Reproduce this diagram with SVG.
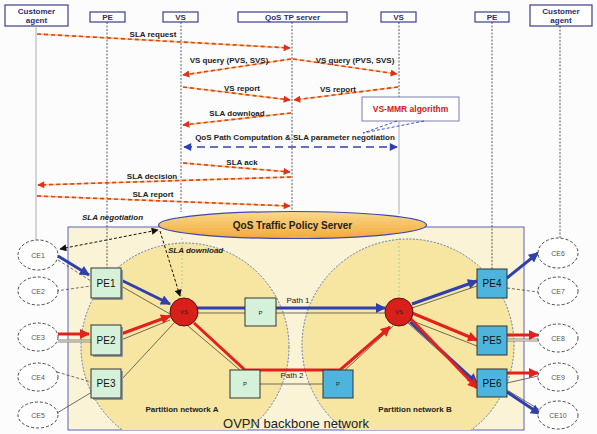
<svg xmlns="http://www.w3.org/2000/svg" width="597" height="434" viewBox="0 0 597 434">
<defs>
<style>
text{font-family:"Liberation Sans",Arial,sans-serif;}
.hdr{fill:#fff;stroke:#3a3f8a;stroke-width:1.2;}
.hdrt{font-size:8px;font-weight:bold;fill:#2a2f6a;text-anchor:middle;}
.life{stroke:#333;stroke-width:0.8;stroke-dasharray:2 1.5;fill:none;}
.lifeg{stroke:#999;stroke-width:0.8;fill:none;}
.msgb{stroke:#f6c27a;stroke-width:1.6;fill:none;}
.msg{stroke:#e0401a;stroke-width:1.6;stroke-dasharray:4 3;fill:none;}
.mt{font-size:8px;font-weight:bold;fill:#222;text-anchor:middle;}
.it{font-size:8px;font-weight:bold;font-style:italic;fill:#222;}
.ce{fill:#fff;stroke:#333;stroke-width:0.9;stroke-dasharray:3 2;}
.cet{font-size:7px;fill:#555;text-anchor:middle;}
.peg{fill:#d6f1da;stroke:#333;stroke-width:1;}
.peb{fill:#4db5dd;stroke:#333;stroke-width:1;}
.sh{fill:#999;}
.pet{font-size:10px;fill:#111;text-anchor:middle;}
.vs{fill:#d91f1a;stroke:#5a1010;stroke-width:1;}
.vst{font-size:6px;fill:#222;text-anchor:middle;}
.thin{stroke:#333;stroke-width:0.7;fill:none;}
.thind{stroke:#333;stroke-width:0.7;stroke-dasharray:3 2;fill:none;}
.dbl{stroke:#888;stroke-width:3;fill:none;}
.dbli{stroke:#f5eed5;stroke-width:1.2;fill:none;}
.blue{stroke:#2f3fae;stroke-width:3;fill:none;}
.red{stroke:#e3211c;stroke-width:3;fill:none;}
.blk{stroke:#111;stroke-width:1;stroke-dasharray:3 2;fill:none;}
</style>
<marker id="ar" viewBox="0 0 10 10" refX="9" refY="5" markerWidth="10" markerHeight="7" markerUnits="userSpaceOnUse" orient="auto-start-reverse"><path d="M0,0 L10,5 L0,10 z" fill="#e0301a"/></marker>
<marker id="ab" viewBox="0 0 10 10" refX="9" refY="5" markerWidth="11" markerHeight="8" markerUnits="userSpaceOnUse" orient="auto-start-reverse"><path d="M0,0 L10,5 L0,10 z" fill="#2f3fae"/></marker>
<marker id="abk" viewBox="0 0 10 10" refX="9" refY="5" markerWidth="9" markerHeight="7" markerUnits="userSpaceOnUse" orient="auto-start-reverse"><path d="M0,0 L10,5 L0,10 z" fill="#111"/></marker>
<marker id="rt" viewBox="0 0 10 10" refX="9" refY="5" markerWidth="13" markerHeight="10" markerUnits="userSpaceOnUse" orient="auto"><path d="M0,0 L10,5 L0,10 z" fill="#e3211c"/></marker>
<marker id="bt" viewBox="0 0 10 10" refX="9" refY="5" markerWidth="13" markerHeight="10" markerUnits="userSpaceOnUse" orient="auto"><path d="M0,0 L10,5 L0,10 z" fill="#2f3fae"/></marker>
<clipPath id="bb"><rect x="68" y="227" width="456" height="203"/></clipPath>
<linearGradient id="og" x1="0" y1="0" x2="0" y2="1"><stop offset="0" stop-color="#fbd98a"/><stop offset="1" stop-color="#f2a93a"/></linearGradient>
</defs>
<rect width="597" height="434" fill="#fcfcfd"/>

<!-- backbone network -->
<g id="backbone">
<rect x="68" y="227" width="456" height="203" fill="#faf3d6" stroke="#5a62b8" stroke-width="1"/>
<g clip-path="url(#bb)">
<circle cx="185" cy="347" r="104" fill="#f6e6a2" stroke="#4f6cc0" stroke-width="0.9" stroke-dasharray="2 1.5"/>
<circle cx="408" cy="345" r="106" fill="#f6e6a2" stroke="#4f6cc0" stroke-width="0.9" stroke-dasharray="2 1.5"/>
</g>
<text x="296" y="428" font-size="13" fill="#222" text-anchor="middle">OVPN backbone network</text>
<text x="182" y="412" font-size="8" font-weight="bold" fill="#222" text-anchor="middle">Partition network A</text>
<text x="415" y="412" font-size="8" font-weight="bold" fill="#222" text-anchor="middle">Partition network B</text>
</g>

<!-- header boxes -->
<g id="h-ca1"><rect class="hdr" x="5" y="5" width="63" height="21" stroke-width="1.8"/><text class="hdrt" x="36.5" y="14">Customer</text><text class="hdrt" x="36.5" y="23">agent</text></g>
<g id="h-pe1"><rect class="hdr" x="90" y="12" width="35" height="10"/><text class="hdrt" x="107.5" y="20" font-size="7">PE</text></g>
<g id="h-vs1"><rect class="hdr" x="163" y="12" width="35" height="10"/><text class="hdrt" x="180.5" y="20" font-size="7">VS</text></g>
<g id="h-qos"><rect class="hdr" x="238" y="12" width="109" height="10"/><text class="hdrt" x="292.5" y="20" font-size="7">QoS TP server</text></g>
<g id="h-vs2"><rect class="hdr" x="381" y="12" width="35" height="10"/><text class="hdrt" x="398.5" y="20" font-size="7">VS</text></g>
<g id="h-pe2"><rect class="hdr" x="475" y="12" width="34" height="10"/><text class="hdrt" x="492" y="20" font-size="7">PE</text></g>
<g id="h-ca2"><rect class="hdr" x="530" y="5" width="62" height="21" stroke-width="1.8"/><text class="hdrt" x="561" y="14">Customer</text><text class="hdrt" x="561" y="23">agent</text></g>

<!-- lifelines -->
<g id="lifelines">
<line class="lifeg" x1="36" y1="26" x2="36" y2="240"/>
<line class="life" x1="107" y1="22" x2="107" y2="268"/>
<line class="life" x1="181" y1="22" x2="181" y2="212" stroke="#777"/>
<line class="life" x1="292" y1="22" x2="292" y2="210"/>
<line class="life" x1="399" y1="22" x2="399" y2="100"/>
<line class="lifeg" x1="399" y1="121" x2="399" y2="214"/>
<line class="life" x1="492" y1="22" x2="492" y2="269"/>
<line class="life" x1="560" y1="26" x2="560" y2="238"/>
<line stroke="#9bbf9b" stroke-width="0.7" stroke-dasharray="2 2" x1="399" y1="238" x2="399" y2="298"/>
<line stroke="#9bbf9b" stroke-width="0.7" stroke-dasharray="2 2" x1="182" y1="238" x2="182" y2="298"/>
</g>

<!-- messages -->
<g id="messages">
<line class="msgb" x1="37" y1="34" x2="290" y2="48"/><line class="msg" x1="37" y1="34" x2="290" y2="48" marker-end="url(#ar)"/>
<text class="mt" x="153" y="37">SLA request</text>
<line class="msgb" x1="291" y1="59" x2="183" y2="75"/><line class="msg" x1="291" y1="59" x2="183" y2="75" marker-end="url(#ar)"/>
<text class="mt" x="229" y="63">VS query (PVS, SVS)</text>
<line class="msgb" x1="293" y1="59" x2="397" y2="74"/><line class="msg" x1="293" y1="59" x2="397" y2="74" marker-end="url(#ar)"/>
<text class="mt" x="355" y="63">VS query (PVS, SVS)</text>
<line class="msgb" x1="183" y1="87" x2="290" y2="100"/><line class="msg" x1="183" y1="87" x2="290" y2="100" marker-end="url(#ar)"/>
<text class="mt" x="242" y="91">VS report</text>
<line class="msgb" x1="398" y1="87" x2="294" y2="100"/><line class="msg" x1="398" y1="87" x2="294" y2="100" marker-end="url(#ar)"/>
<text class="mt" x="338" y="92">VS report</text>
<line class="msgb" x1="291" y1="113" x2="183" y2="125"/><line class="msg" x1="291" y1="113" x2="183" y2="125" marker-end="url(#ar)"/>
<text class="mt" x="237" y="116">SLA download</text>
<text class="mt" x="295" y="140">QoS Path Computation &amp; SLA parameter negotiation</text>
<line x1="184" y1="147" x2="397" y2="147" stroke="#3340b0" stroke-width="1.6" stroke-dasharray="8 5" marker-start="url(#ab)" marker-end="url(#ab)"/>
<line class="msgb" x1="183" y1="163" x2="290" y2="172"/><line class="msg" x1="183" y1="163" x2="290" y2="172" marker-end="url(#ar)"/>
<text class="mt" x="242" y="165">SLA ack</text>
<line class="msgb" x1="291" y1="177" x2="38" y2="185"/><line class="msg" x1="291" y1="177" x2="38" y2="185" marker-end="url(#ar)"/>
<text class="mt" x="152" y="179">SLA decision</text>
<line class="msgb" x1="37" y1="196" x2="290" y2="206"/><line class="msg" x1="37" y1="196" x2="290" y2="206" marker-end="url(#ar)"/>
<text class="mt" x="153" y="197">SLA report</text>
</g>

<!-- VS-MMR callout -->
<g id="vsmmr">
<rect x="362" y="97" width="97" height="24" fill="#fff" stroke="#7a7fb0" stroke-width="1"/>
<text x="410.5" y="112" font-size="8.5" font-weight="bold" fill="#d0201a" text-anchor="middle">VS-MMR algorithm</text>
<line x1="397" y1="121" x2="363" y2="133" stroke="#3340b0" stroke-width="0.9" stroke-dasharray="3 2"/>
<line x1="424" y1="121" x2="363" y2="133" stroke="#3340b0" stroke-width="0.9" stroke-dasharray="3 2"/>
</g>

<!-- QoS Traffic Policy Server -->
<g id="qtps">
<ellipse cx="292.5" cy="225" rx="134" ry="13.5" fill="url(#og)" stroke="#3a48b0" stroke-width="1.2"/>
<text x="292.5" y="229" font-size="10" font-weight="bold" fill="#222" text-anchor="middle">QoS Traffic Policy Server</text>
</g>

<!-- connectors -->
<g id="connectors">
<!-- SLA negotiation / download -->
<line class="blk" x1="60" y1="249" x2="158" y2="230" marker-start="url(#abk)" marker-end="url(#abk)"/>
<text class="it" x="82" y="220">SLA negotiation</text>
<line class="blk" x1="160" y1="231" x2="180" y2="296" marker-end="url(#abk)"/>
<text class="it" x="168" y="253">SLA download</text>
<!-- thin links left -->
<line class="thind" x1="58" y1="260" x2="91" y2="281"/>
<line class="thind" x1="56" y1="291" x2="91" y2="286"/>
<line class="dbl" x1="58" y1="341" x2="91" y2="341"/><line class="dbli" x1="58" y1="341" x2="91" y2="341"/>
<line class="thind" x1="57" y1="372" x2="91" y2="382"/>
<line class="thin" x1="57" y1="413" x2="92" y2="392"/>
<line class="thin" x1="121" y1="286" x2="170" y2="314"/>
<line class="thin" x1="121" y1="340" x2="170" y2="320"/>
<line class="thin" x1="121" y1="380" x2="174" y2="323"/>
<line class="thin" x1="188" y1="326" x2="240" y2="370"/>
<line class="thin" x1="196" y1="313" x2="385" y2="313"/>
<line class="thin" x1="260" y1="384" x2="323" y2="384"/>
<line class="thin" x1="345" y1="370" x2="393" y2="326"/>
<!-- thin links right -->
<line class="thin" x1="412" y1="308" x2="477" y2="286"/>
<line class="thin" x1="410" y1="320" x2="477" y2="346"/>
<line class="thin" x1="408" y1="323" x2="477" y2="385"/>
<line class="thind" x1="507" y1="288" x2="538" y2="292"/>
<line class="dbl" x1="507" y1="340" x2="538" y2="340"/><line class="dbli" x1="507" y1="340" x2="538" y2="340"/>
<line class="thin" x1="507" y1="383" x2="538" y2="376"/>
<line class="thin" x1="507" y1="390" x2="540" y2="410"/>
<!-- blue path -->
<line class="blue" x1="58" y1="256" x2="89" y2="275" marker-end="url(#bt)"/>
<line class="blue" x1="121" y1="280" x2="170" y2="304" marker-end="url(#bt)"/>
<line class="blue" x1="197" y1="308" x2="385" y2="308" marker-end="url(#bt)"/>
<line class="blue" x1="412" y1="304" x2="477" y2="281" marker-end="url(#bt)"/>
<line class="blue" x1="507" y1="278" x2="538" y2="253" marker-end="url(#bt)"/>
<line class="blue" x1="410" y1="322" x2="477" y2="383" marker-end="url(#bt)"/>
<line class="blue" x1="507" y1="392" x2="540" y2="414" marker-end="url(#bt)"/>
<!-- red path -->
<line class="red" x1="58" y1="334" x2="89" y2="334" marker-end="url(#rt)"/>
<line class="red" x1="121" y1="334" x2="170" y2="316" marker-end="url(#rt)"/>
<polyline class="red" points="194,323 245,370 340,370 390,327" marker-end="url(#rt)"/>
<line class="red" x1="412" y1="313" x2="477" y2="340" marker-end="url(#rt)"/>
<line class="red" x1="410" y1="318" x2="477" y2="388" marker-end="url(#rt)"/>
<line class="red" x1="507" y1="335" x2="538" y2="335" marker-end="url(#rt)"/>
<line class="red" x1="507" y1="373" x2="538" y2="373" marker-end="url(#rt)"/>
<text x="298" y="303" font-size="8" fill="#222" text-anchor="middle">Path 1</text>
<text x="292" y="378" font-size="8" fill="#222" text-anchor="middle">Path 2</text>
</g>

<!-- nodes -->
<g id="CE1"><ellipse class="ce" cx="38" cy="255" rx="20" ry="15"/><text class="cet" x="38" y="258">CE1</text></g>
<g id="CE2"><ellipse class="ce" cx="38" cy="291" rx="20" ry="14"/><text class="cet" x="38" y="294">CE2</text></g>
<g id="CE3"><ellipse class="ce" cx="38" cy="337" rx="20" ry="14"/><text class="cet" x="38" y="340">CE3</text></g>
<g id="CE4"><ellipse class="ce" cx="38" cy="377" rx="20" ry="14"/><text class="cet" x="38" y="380">CE4</text></g>
<g id="CE5"><ellipse class="ce" cx="38" cy="415" rx="20" ry="13"/><text class="cet" x="38" y="418">CE5</text></g>
<g id="CE6"><ellipse class="ce" cx="558" cy="253" rx="20" ry="15"/><text class="cet" x="558" y="256">CE6</text></g>
<g id="CE7"><ellipse class="ce" cx="558" cy="291" rx="20" ry="14"/><text class="cet" x="558" y="294">CE7</text></g>
<g id="CE8"><ellipse class="ce" cx="558" cy="338" rx="20" ry="14"/><text class="cet" x="558" y="341">CE8</text></g>
<g id="CE9"><ellipse class="ce" cx="558" cy="377" rx="20" ry="14"/><text class="cet" x="558" y="380">CE9</text></g>
<g id="CE10"><ellipse class="ce" cx="558" cy="415" rx="20" ry="14"/><text class="cet" x="558" y="418">CE10</text></g>

<g id="PE1"><rect class="sh" x="93" y="270" width="30" height="30"/><rect class="peg" x="91" y="268" width="30" height="30"/><text class="pet" x="106" y="287">PE1</text></g>
<g id="PE2"><rect class="sh" x="93" y="327" width="30" height="30"/><rect class="peg" x="91" y="325" width="30" height="30"/><text class="pet" x="106" y="344">PE2</text></g>
<g id="PE3"><rect class="sh" x="93" y="371" width="30" height="29"/><rect class="peg" x="91" y="369" width="30" height="29"/><text class="pet" x="106" y="387">PE3</text></g>
<g id="PE4"><rect class="peb" x="477" y="269" width="30" height="29"/><text class="pet" x="492" y="287">PE4</text></g>
<g id="PE5"><rect class="peb" x="477" y="326" width="30" height="29"/><text class="pet" x="492" y="344">PE5</text></g>
<g id="PE6"><rect class="peb" x="477" y="369" width="30" height="28"/><text class="pet" x="492" y="387">PE6</text></g>

<g id="VS-A"><circle class="vs" cx="184" cy="312" r="14"/><text class="vst" x="184" y="314">VS</text></g>
<g id="VS-B"><circle class="vs" cx="399" cy="312" r="14"/><text class="vst" x="399" y="314">VS</text></g>

<g id="P1"><rect class="peg" x="245" y="298" width="31" height="28"/><text class="vst" x="260.5" y="315">P</text></g>
<g id="P2"><rect class="peg" x="230" y="370" width="30" height="28"/><text class="vst" x="245" y="386">P</text></g>
<g id="P3"><rect class="peb" x="323" y="370" width="30" height="28"/><text class="vst" x="338" y="386">P</text></g>
</svg>
